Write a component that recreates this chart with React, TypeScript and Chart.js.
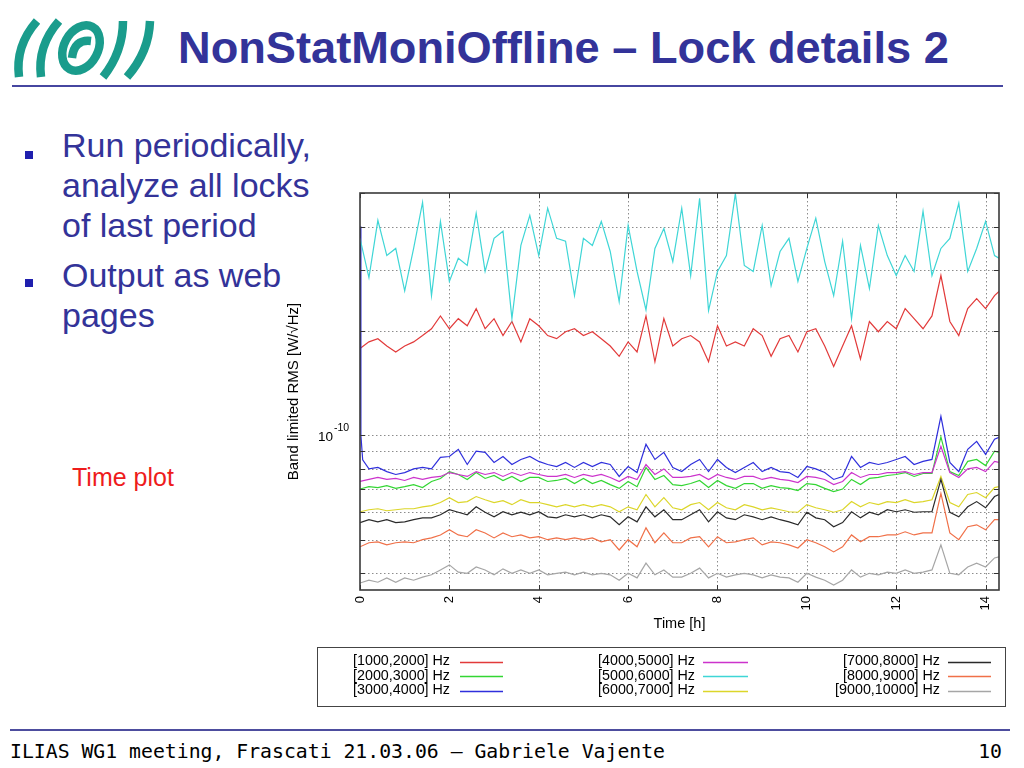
import React, { useEffect, useRef } from 'react';
import { Chart, registerables } from 'chart.js';

Chart.register(...registerables);

// ---------- data (values in units of 1e-10 W/sqrt(Hz)) ----------
const UNIT = 1e-10;

const TIME = [
  0, 0.2, 0.4, 0.6, 0.8, 1, 1.2, 1.4, 1.6, 1.8, 2, 2.2, 2.4, 2.6, 2.8, 3, 3.2, 3.4, 3.6, 3.8,
  4, 4.2, 4.4, 4.6, 4.8, 5, 5.2, 5.4, 5.6, 5.8, 6, 6.2, 6.4, 6.6, 6.8, 7,
  7.2, 7.4, 7.6, 7.8, 8, 8.2, 8.4, 8.6, 8.8, 9, 9.2, 9.4, 9.6, 9.8, 10, 10.2, 10.4, 10.6, 10.8,
  11, 11.2, 11.4, 11.6, 11.8, 12, 12.2, 12.4, 12.6, 12.8, 13, 13.2, 13.4, 13.6, 13.8, 14, 14.2, 14.3,
];

const X_TICKS = [0, 2, 4, 6, 8, 10, 12, 14];
const X_MIN = 0;
const X_MAX = 14.3;
const Y_TICKS = [0.4, 0.5, 0.6, 0.7, 0.8, 0.9, 1, 2, 3, 4, 5];
const Y_MIN = 0.358;
const Y_MAX = 5;
const Y_LABELED_TICK = 1; // 10^-10

const SERIES_LABELS = [
  '[1000,2000] Hz', '[2000,3000] Hz', '[3000,4000] Hz',
  '[4000,5000] Hz', '[5000,6000] Hz', '[6000,7000] Hz',
  '[7000,8000] Hz', '[8000,9000] Hz', '[9000,10000] Hz',
];
const SERIES_COLORS = [
  '#e23a3a', '#33d633', '#2f2fdc',
  '#cc33cc', '#3fd6d6', '#dcd62a',
  '#2a2a2a', '#f07048', '#a6a6a6',
];

const BAND_1000_2000 = [
  1.78, 1.86, 1.90, 1.81, 1.74, 1.81, 1.86, 1.94, 2.03, 2.21, 2.03, 2.17, 2.07, 2.32, 2.03, 2.17, 1.94, 2.13,
  1.86, 2.17, 2.07, 1.94, 1.90, 1.99, 2.03, 1.94, 1.99, 1.90, 1.81, 1.69, 1.86, 1.74, 2.21, 1.63, 2.17, 1.81,
  1.90, 1.94, 1.86, 1.63, 2.07, 1.81, 1.86, 1.81, 2.03, 1.94, 1.69, 1.90, 1.94, 1.74, 1.99, 2.03, 1.81, 1.58,
  1.81, 2.07, 1.66, 2.13, 1.99, 2.13, 2.03, 2.32, 2.17, 2.03, 2.21, 2.89, 2.13, 1.94, 2.32, 2.48, 2.32, 2.53, 2.60,
];
const BAND_2000_3000 = [
  0.700, 0.711, 0.707, 0.716, 0.703, 0.711, 0.721, 0.707, 0.736, 0.751, 0.786, 0.771, 0.746, 0.781, 0.751, 0.766, 0.741, 0.761,
  0.736, 0.756, 0.756, 0.736, 0.741, 0.751, 0.726, 0.751, 0.726, 0.741, 0.721, 0.703, 0.736, 0.711, 0.808, 0.746, 0.766, 0.721,
  0.716, 0.726, 0.741, 0.707, 0.741, 0.716, 0.703, 0.726, 0.726, 0.703, 0.716, 0.707, 0.703, 0.693, 0.726, 0.721, 0.703, 0.688,
  0.700, 0.746, 0.721, 0.751, 0.756, 0.766, 0.771, 0.781, 0.761, 0.776, 0.776, 0.990, 0.786, 0.766, 0.841, 0.852, 0.818, 0.900, 0.893,
];
const BAND_3000_4000 = [
  4.00, 0.800, 0.808, 0.786, 0.771, 0.781, 0.800, 0.808, 0.800, 0.864, 0.869, 0.911, 0.824, 0.900, 0.893, 0.835, 0.869, 0.824,
  0.852, 0.869, 0.841, 0.824, 0.813, 0.835, 0.808, 0.835, 0.813, 0.835, 0.824, 0.761, 0.813, 0.781, 0.942, 0.852, 0.893, 0.808,
  0.786, 0.824, 0.852, 0.786, 0.852, 0.808, 0.781, 0.808, 0.835, 0.786, 0.808, 0.786, 0.781, 0.756, 0.813, 0.800, 0.781, 0.746,
  0.761, 0.869, 0.808, 0.835, 0.824, 0.835, 0.852, 0.869, 0.824, 0.841, 0.852, 1.135, 0.835, 0.786, 0.911, 0.961, 0.881, 0.974, 0.987,
];
// steep initial drop of the [3000,4000] band right after t = 0
const BAND_3000_4000_DROP_TIME = [0.02, 0.06];
const BAND_3000_4000_DROP = [1.0, 0.85];
const BAND_4000_5000 = [
  0.736, 0.746, 0.756, 0.746, 0.751, 0.741, 0.756, 0.746, 0.756, 0.761, 0.781, 0.771, 0.761, 0.786, 0.771, 0.781, 0.761, 0.781,
  0.766, 0.781, 0.771, 0.761, 0.761, 0.771, 0.756, 0.771, 0.761, 0.771, 0.756, 0.736, 0.761, 0.746, 0.824, 0.771, 0.800, 0.756,
  0.756, 0.761, 0.771, 0.746, 0.771, 0.756, 0.746, 0.761, 0.761, 0.746, 0.756, 0.746, 0.741, 0.731, 0.761, 0.756, 0.746, 0.721,
  0.736, 0.781, 0.756, 0.771, 0.771, 0.781, 0.781, 0.786, 0.771, 0.781, 0.781, 0.929, 0.781, 0.756, 0.800, 0.808, 0.786, 0.841, 0.835,
];
const BAND_5000_6000 = [
  3.70, 2.85, 4.17, 3.30, 3.46, 2.61, 3.46, 4.70, 2.53, 4.14, 2.78, 3.24, 3.09, 4.37, 2.97, 3.70, 3.88, 2.17,
  3.53, 4.31, 3.30, 4.52, 3.70, 3.63, 2.53, 3.70, 3.53, 4.14, 3.39, 2.43, 4.03, 2.97, 2.30, 3.46, 3.95, 3.17,
  4.52, 2.89, 4.83, 2.29, 2.97, 3.30, 4.98, 3.09, 2.97, 4.03, 2.70, 3.39, 3.70, 2.78, 3.46, 4.23, 3.17, 2.53,
  3.63, 2.17, 3.53, 2.65, 4.03, 3.30, 2.89, 3.30, 2.97, 4.43, 2.89, 3.46, 3.70, 4.67, 2.97, 3.46, 4.14, 3.30, 3.24,
];
const BAND_6000_7000 = [
  0.602, 0.610, 0.614, 0.606, 0.610, 0.614, 0.614, 0.622, 0.627, 0.640, 0.661, 0.640, 0.644, 0.666, 0.652, 0.640, 0.648, 0.631,
  0.652, 0.640, 0.640, 0.631, 0.622, 0.631, 0.622, 0.631, 0.622, 0.631, 0.622, 0.602, 0.622, 0.610, 0.675, 0.622, 0.661, 0.618,
  0.610, 0.631, 0.640, 0.610, 0.640, 0.618, 0.610, 0.631, 0.622, 0.610, 0.618, 0.610, 0.602, 0.600, 0.631, 0.618, 0.610, 0.600,
  0.610, 0.644, 0.622, 0.640, 0.631, 0.644, 0.640, 0.652, 0.640, 0.644, 0.652, 0.761, 0.640, 0.622, 0.675, 0.684, 0.661, 0.707, 0.711,
];
const BAND_7000_8000 = [
  0.560, 0.571, 0.563, 0.571, 0.560, 0.563, 0.571, 0.578, 0.578, 0.590, 0.610, 0.600, 0.590, 0.622, 0.600, 0.582, 0.602, 0.590,
  0.600, 0.590, 0.602, 0.582, 0.578, 0.590, 0.582, 0.590, 0.578, 0.590, 0.582, 0.552, 0.582, 0.563, 0.622, 0.582, 0.610, 0.571,
  0.571, 0.590, 0.610, 0.563, 0.602, 0.578, 0.571, 0.590, 0.582, 0.571, 0.582, 0.571, 0.563, 0.552, 0.600, 0.578, 0.571, 0.545,
  0.560, 0.602, 0.578, 0.600, 0.590, 0.610, 0.602, 0.610, 0.600, 0.602, 0.602, 0.746, 0.600, 0.582, 0.622, 0.644, 0.618, 0.666, 0.675,
];
const BAND_8000_9000 = [
  0.477, 0.490, 0.493, 0.483, 0.490, 0.493, 0.490, 0.500, 0.506, 0.516, 0.534, 0.516, 0.510, 0.534, 0.523, 0.506, 0.523, 0.510,
  0.516, 0.506, 0.510, 0.500, 0.506, 0.500, 0.506, 0.500, 0.506, 0.493, 0.500, 0.467, 0.500, 0.477, 0.541, 0.490, 0.523, 0.490,
  0.490, 0.506, 0.510, 0.477, 0.510, 0.490, 0.493, 0.500, 0.506, 0.483, 0.493, 0.490, 0.483, 0.473, 0.500, 0.490, 0.477, 0.461,
  0.477, 0.516, 0.493, 0.510, 0.510, 0.516, 0.516, 0.527, 0.516, 0.523, 0.523, 0.680, 0.523, 0.500, 0.545, 0.552, 0.534, 0.571, 0.571,
];
const BAND_9000_10000 = [
  0.375, 0.382, 0.377, 0.388, 0.377, 0.388, 0.382, 0.390, 0.396, 0.409, 0.423, 0.403, 0.400, 0.417, 0.409, 0.396, 0.412, 0.400,
  0.409, 0.400, 0.409, 0.396, 0.400, 0.403, 0.396, 0.403, 0.396, 0.400, 0.396, 0.382, 0.400, 0.388, 0.428, 0.396, 0.409, 0.390,
  0.390, 0.400, 0.414, 0.388, 0.400, 0.390, 0.396, 0.400, 0.396, 0.388, 0.396, 0.390, 0.388, 0.377, 0.400, 0.390, 0.382, 0.370,
  0.382, 0.409, 0.390, 0.400, 0.396, 0.403, 0.400, 0.409, 0.400, 0.403, 0.409, 0.483, 0.400, 0.396, 0.417, 0.428, 0.417, 0.443, 0.446,
];

const SERIES_VALUES = [
  BAND_1000_2000, BAND_2000_3000, BAND_3000_4000,
  BAND_4000_5000, BAND_5000_6000, BAND_6000_7000,
  BAND_7000_8000, BAND_8000_9000, BAND_9000_10000,
];

// ---------- styling / layout constants ----------
const FONT = '"Liberation Sans", Arial, Helvetica, sans-serif';
const CANVAS_LEFT = 270;
const CANVAS_TOP = 180;
const CANVAS_W = 745;
const CANVAS_H = 535;

function buildPoints(i: number) {
  const vals = SERIES_VALUES[i];
  const pts = TIME.map((t, j) => ({ x: t, y: vals[j] * UNIT }));
  if (i === 2) {
    const lead = BAND_3000_4000_DROP_TIME.map((t, j) => ({ x: t, y: BAND_3000_4000_DROP[j] * UNIT }));
    pts.splice(1, 0, ...lead);
  }
  return pts;
}

const gnuplotPlugin = {
  id: 'gnuplotLook',
  beforeDatasetsDraw(chart: any) {
    const { ctx, chartArea: a } = chart;
    const xs = chart.scales.x;
    const ys = chart.scales.y;
    ctx.save();
    ctx.strokeStyle = '#8c8c8c';
    ctx.lineWidth = 1;
    ctx.setLineDash([1.5, 2.5]);
    ctx.beginPath();
    for (const v of X_TICKS) {
      const px = Math.round(xs.getPixelForValue(v)) + 0.5;
      if (px - a.left < 2 || a.right - px < 2) continue;
      ctx.moveTo(px, a.top);
      ctx.lineTo(px, a.bottom);
    }
    for (const v of Y_TICKS) {
      const py = Math.round(ys.getPixelForValue(v * UNIT)) + 0.5;
      if (py - a.top < 2 || a.bottom - py < 2) continue;
      ctx.moveTo(a.left, py);
      ctx.lineTo(a.right, py);
    }
    ctx.stroke();
    ctx.restore();
  },
  afterDraw(chart: any) {
    const { ctx, chartArea: a } = chart;
    const xs = chart.scales.x;
    const ys = chart.scales.y;
    ctx.save();
    // inward tick marks on all four sides
    ctx.strokeStyle = '#333';
    ctx.lineWidth = 1;
    ctx.beginPath();
    const T = 5;
    for (const v of X_TICKS) {
      const px = Math.round(xs.getPixelForValue(v)) + 0.5;
      ctx.moveTo(px, a.bottom); ctx.lineTo(px, a.bottom - T);
      ctx.moveTo(px, a.top); ctx.lineTo(px, a.top + T);
    }
    for (const v of Y_TICKS) {
      const py = Math.round(ys.getPixelForValue(v * UNIT)) + 0.5;
      ctx.moveTo(a.left, py); ctx.lineTo(a.left + T, py);
      ctx.moveTo(a.right, py); ctx.lineTo(a.right - T, py);
    }
    ctx.stroke();
    // frame
    ctx.strokeStyle = '#3a3a3a';
    ctx.lineWidth = 1.6;
    ctx.strokeRect(a.left, a.top, a.right - a.left, a.bottom - a.top);

    // "10^-10" tick label
    const py = ys.getPixelForValue(Y_LABELED_TICK * UNIT);
    ctx.fillStyle = '#000';
    ctx.textBaseline = 'alphabetic';
    ctx.font = `13.5px ${FONT}`;
    ctx.textAlign = 'right';
    const baseX = a.left - 27;
    ctx.fillText('10', baseX, py + 5.5);
    ctx.font = `10.5px ${FONT}`;
    ctx.textAlign = 'left';
    ctx.fillText('-10', baseX + 1, py - 4);

    // legend box
    const box = { left: 47, top: 467, right: 735, bottom: 526 };
    ctx.strokeStyle = '#444';
    ctx.lineWidth = 1;
    ctx.strokeRect(box.left + 0.5, box.top + 0.5, box.right - box.left, box.bottom - box.top);
    const textRight = [180, 425, 670];
    const lineSpan = [[190, 233], [433, 478], [678, 721]];
    const rowY = [481.5, 496, 510.5];
    ctx.font = `14.3px ${FONT}`;
    ctx.textBaseline = 'middle';
    chart.data.datasets.forEach((ds: any, i: number) => {
      const col = Math.floor(i / 3);
      const row = i % 3;
      const y = rowY[row];
      ctx.fillStyle = '#000';
      ctx.textAlign = 'right';
      ctx.fillText(ds.label, textRight[col], y);
      ctx.strokeStyle = ds.borderColor;
      ctx.lineWidth = 1.3;
      ctx.beginPath();
      ctx.moveTo(lineSpan[col][0], Math.round(y) + 0.5);
      ctx.lineTo(lineSpan[col][1], Math.round(y) + 0.5);
      ctx.stroke();
    });
    ctx.restore();
  },
};

function TimePlot() {
  const ref = useRef<HTMLCanvasElement | null>(null);
  useEffect(() => {
    if (!ref.current) return;
    const chart = new Chart(ref.current, {
      type: 'line',
      data: {
        datasets: SERIES_LABELS.map((label, i) => ({
          label,
          data: buildPoints(i),
          borderColor: SERIES_COLORS[i],
          backgroundColor: SERIES_COLORS[i],
          borderWidth: 1.2,
          pointRadius: 0,
          tension: 0,
          fill: false,
          order: SERIES_LABELS.length - i,
        })),
      },
      options: {
        animation: false,
        responsive: false,
        events: [],
        layout: { padding: { left: 0, right: 16, top: 13, bottom: 70 } },
        plugins: { legend: { display: false }, tooltip: { enabled: false } },
        scales: {
          x: {
            type: 'linear',
            min: X_MIN,
            max: X_MAX,
            grid: { display: false, drawTicks: false },
            border: { display: false },
            afterBuildTicks: (scale: any) => {
              scale.ticks = X_TICKS.map((v) => ({ value: v }));
            },
            afterFit: (scale: any) => {
              scale.height = 55;
            },
            ticks: {
              autoSkip: false,
              minRotation: 90,
              maxRotation: 90,
              padding: 6,
              color: '#000',
              font: { family: FONT, size: 13 },
            },
            title: {
              display: true,
              text: 'Time [h]',
              color: '#000',
              font: { family: FONT, size: 14.5 },
              padding: { top: 0, bottom: 12 },
            },
          },
          y: {
            type: 'logarithmic',
            min: Y_MIN * UNIT,
            max: Y_MAX * UNIT,
            grid: { display: false, drawTicks: false },
            border: { display: false },
            afterBuildTicks: (scale: any) => {
              scale.ticks = Y_TICKS.map((v) => ({ value: v * UNIT }));
            },
            afterFit: (scale: any) => {
              scale.width = 90;
            },
            ticks: { display: false },
            title: {
              display: true,
              text: 'Band limited RMS [W/\u221AHz]',
              color: '#000',
              font: { family: FONT, size: 15 },
              padding: { top: 15, bottom: 0 },
            },
          },
        },
      },
      plugins: [gnuplotPlugin],
    } as any);
    return () => chart.destroy();
  }, []);
  return (
    <canvas
      ref={ref}
      width={CANVAS_W}
      height={CANVAS_H}
      style={{ position: 'absolute', left: CANVAS_LEFT, top: CANVAS_TOP, width: CANVAS_W, height: CANVAS_H }}
    />
  );
}

function Logo() {
  return (
    <svg width={160} height={90} style={{ position: 'absolute', left: 0, top: 0 }}>
      <g fill="none" stroke="#1a9c8c" strokeWidth={8.5}>
        <path d="M19 77 Q15 46 37 21" />
        <path d="M41 77 Q37 46 59 21" />
        <ellipse cx={81} cy={48} rx={17} ry={24} transform="rotate(28 81 48)" />
        <path d="M72 58 Q74 39 91 41" />
        <path d="M103 77 Q123 52 123 21" />
        <path d="M127 77 Q149 52 150 21" />
      </g>
    </svg>
  );
}

export default function App() {
  const blue = '#333399';
  const bodyText: React.CSSProperties = {
    position: 'absolute',
    left: 62,
    fontFamily: FONT,
    fontSize: 34,
    lineHeight: '40px',
    color: blue,
    whiteSpace: 'nowrap',
  };
  const bullet = (top: number): React.CSSProperties => ({
    position: 'absolute',
    left: 25,
    top,
    width: 8,
    height: 8,
    background: '#1f1fae',
  });
  return (
    <div
      style={{
        position: 'absolute',
        left: 0,
        top: 0,
        width: 1024,
        height: 768,
        background: '#fff',
        overflow: 'hidden',
      }}
    >
      <Logo />
      <div
        style={{
          position: 'absolute',
          left: 178,
          top: 25,
          fontFamily: FONT,
          fontWeight: 'bold',
          fontSize: 45.2,
          lineHeight: '45px',
          color: blue,
          whiteSpace: 'nowrap',
        }}
      >
        NonStatMoniOffline – Lock details 2
      </div>
      <div style={{ position: 'absolute', left: 12, top: 85, width: 991, height: 2, background: '#4646a0' }} />

      <div style={bullet(151)} />
      <div style={{ ...bodyText, top: 125 }}>
        <div>Run periodically,</div>
        <div>analyze all locks</div>
        <div>of last period</div>
      </div>
      <div style={bullet(279)} />
      <div style={{ ...bodyText, top: 255 }}>
        <div>Output as web</div>
        <div>pages</div>
      </div>

      <div
        style={{
          position: 'absolute',
          left: 72,
          top: 465,
          fontFamily: FONT,
          fontSize: 25,
          lineHeight: '25px',
          color: '#ee1c1c',
          whiteSpace: 'nowrap',
        }}
      >
        Time plot
      </div>

      <TimePlot />

      <div style={{ position: 'absolute', left: 10, top: 729, width: 1000, height: 2, background: '#4d4d9e' }} />
      <div
        style={{
          position: 'absolute',
          left: 10,
          top: 742,
          fontFamily: '"DejaVu Sans Mono", "Liberation Mono", monospace',
          fontSize: 19.8,
          lineHeight: '20px',
          color: '#000',
          whiteSpace: 'pre',
        }}
      >
        ILIAS WG1 meeting, Frascati 21.03.06 – Gabriele Vajente
      </div>
      <div
        style={{
          position: 'absolute',
          right: 22,
          top: 742,
          fontFamily: '"DejaVu Sans Mono", "Liberation Mono", monospace',
          fontSize: 19.8,
          lineHeight: '20px',
          color: '#000',
        }}
      >
        10
      </div>
    </div>
  );
}
